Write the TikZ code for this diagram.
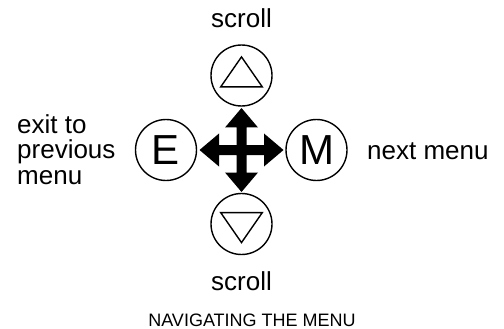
\documentclass[tikz,border=0pt]{standalone}
\usepackage{fontspec}
\setmainfont{Liberation Sans}
\begin{document}
\begin{tikzpicture}[x=1pt,y=-1pt,
  btn/.style={draw,circle,line width=1.4pt,minimum size=61pt,inner sep=0pt,font=\fontsize{42}{42}\selectfont},
  lbl/.style={font=\fontsize{26}{26}\selectfont,inner sep=0pt,anchor=base},
  tri/.style={draw,line width=1.4pt,line join=miter}]
\useasboundingbox (0,0) rectangle (504,329);
\node[btn] (up) at (241.5,75.5) {};
\node[btn] (down) at (241.5,224) {};
\node[btn] (exit) at (166,150) {E};
\node[btn] (menu) at (316.5,150) {M};
\coordinate (c) at (241.5,150);
\draw[tri] ([shift={(-20.8,11.4)}]up.center) -- ([shift={(20.8,11.4)}]up.center) -- ([shift={(0,-18.6)}]up.center) -- cycle;
\draw[tri] ([shift={(-20.8,-11.4)}]down.center) -- ([shift={(20.8,-11.4)}]down.center) -- ([shift={(0,18.6)}]down.center) -- cycle;
\fill[shift={(c)}] (0,-42) -- (16.5,-22.5) -- (5,-22.5) -- (5,-5) -- (22.5,-5) -- (22.5,-16.5) -- (42,0) -- (22.5,16.5) -- (22.5,5) -- (5,5) -- (5,22.5) -- (16.5,22.5) -- (0,42) -- (-16.5,22.5) -- (-5,22.5) -- (-5,5) -- (-22.5,5) -- (-22.5,16.5) -- (-42,0) -- (-22.5,-16.5) -- (-22.5,-5) -- (-5,-5) -- (-5,-22.5) -- (-16.5,-22.5) -- cycle;
\node[lbl] (ts) at (241.5,28) {scroll};
\node[lbl] (bs) at (241.5,290) {scroll};
\node[lbl,anchor=base west] (lt1) at (17,133) {exit to};
\node[lbl,anchor=base west] (lt2) at (17,158.5) {previous};
\node[lbl,anchor=base west] (lt3) at (17,184) {menu};
\node[lbl,anchor=base west] (rt) at (367,159) {next menu};
\node[font=\fontsize{18}{18}\selectfont,inner sep=0pt,anchor=base] (cap) at (252,326) {NAVIGATING THE MENU};
\end{tikzpicture}
\end{document}
